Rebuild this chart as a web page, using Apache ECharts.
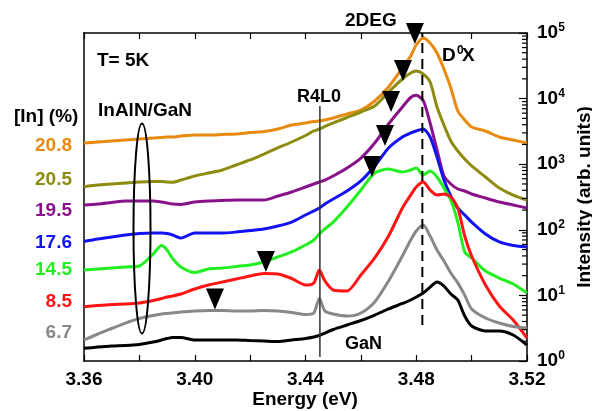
<!DOCTYPE html>
<html>
<head>
<meta charset="utf-8">
<script src="https://cdn.jsdelivr.net/npm/echarts@6/dist/echarts.min.js"></script>
<style>
    html, body { margin: 0; padding: 0; background: #fff; }
    #main { width: 592px; height: 411px; }
</style>
</head>
<body>
<div id="main"></div>
<script>
// 能量坐标 (eV)
var energy = [3.360, 3.365, 3.370, 3.375, 3.380, 3.385, 3.388, 3.390, 3.392, 3.395,
    3.400, 3.405, 3.410, 3.415, 3.420, 3.425, 3.430, 3.435, 3.440, 3.443,
    3.445, 3.447, 3.450, 3.455, 3.460, 3.465, 3.470, 3.475, 3.478, 3.480,
    3.4825, 3.485, 3.4875, 3.490, 3.4925, 3.495, 3.4975, 3.500, 3.505, 3.510,
    3.515, 3.520];

// 各样品的PL强度 (arb. units)
var in208 = [2100, 2180, 2260, 2340, 2420, 2510, 2550, 2600, 2600, 2690,
    2790, 2790, 2840, 2890, 3040, 3150, 3440, 3960, 4250, 4480,
    4560, 4720, 5060, 5820, 6700, 9190, 15000, 29300, 44600, 65600,
    83900, 70400, 49600, 28300, 14500, 6470, 4720, 3690, 3210, 2600,
    2340, 2100];
var in205 = [454, 482, 499, 517, 535, 545, 545, 535, 530, 574,
    661, 734, 816, 973, 1160, 1430, 1770, 2180, 2740, 3210,
    3440, 3760, 4250, 5150, 6250, 7710, 12600, 19900, 24600, 26300,
    23700, 17900, 7450, 3960, 2260, 1590, 1200, 940, 638, 434,
    339, 284];
var in195 = [239, 247, 261, 275, 275, 275, 265, 256, 247, 243,
    265, 275, 280, 284, 284, 284, 327, 377, 449, 499,
    535, 574, 661, 875, 1240, 2100, 4100, 7450, 10400, 11200,
    9400, 4250, 1650, 661, 499, 419, 390, 351, 305, 265,
    239, 215];
var in176 = [66.4, 72.4, 77.7, 83.3, 87.9, 89.4, 89.4, 87.9, 83.3, 75.0,
    89.4, 89.4, 89.4, 92.5, 97.5, 103, 114, 131, 168, 194,
    215, 247, 295, 390, 555, 940, 1770, 2600, 2990, 3210,
    3440, 2600, 1290, 574, 327, 215, 168, 131, 86.3, 65.2,
    57.6, 54.7];
var in145 = [24.4, 25.3, 26.2, 27.1, 28.1, 42.8, 57.6, 49.2, 36.5, 27.1,
    22.3, 25.3, 26.2, 27.6, 29.1, 32.3, 38.5, 45.9, 58.6, 70,
    86.3, 103, 131, 223, 404, 734, 845, 760, 816, 875,
    684, 787, 638, 434, 284, 131, 45.9, 37.2, 23.5, 18.4,
    14.9, 10.9];
var in85 = [6.73, 7.02, 7.27, 7.39, 7.66, 8.36, 8.97, 9.46, 9.79, 10.5,
    12.5, 14.4, 16.0, 17.8, 19.8, 21.6, 21.2, 18.1, 14.4, 15.5,
    24.4, 16.6, 12.1, 11.7, 20.5, 37.2, 80.4, 215, 339, 449,
    535, 404, 339, 351, 316, 215, 80.4, 39.9, 14.4, 6.89,
    4.22, 2.24];
var in67 = [2.09, 2.58, 3.13, 3.79, 4.44, 4.94, 5.20, 5.30, 5.39, 5.58,
    5.78, 5.89, 5.89, 5.78, 5.78, 5.89, 5.78, 5.49, 5.12, 5.39,
    8.97, 5.78, 5.20, 4.85, 5.39, 7.93, 16.6, 39.9, 70.0, 95.9,
    118, 80.4, 49.2, 33.4, 21.9, 15.5, 10.1, 6.21, 4.52, 3.79,
    3.36, 3.18];
var gaN = [1.56, 1.63, 1.69, 1.72, 1.79, 1.95, 2.09, 2.20, 2.28, 2.28,
    2.09, 2.09, 2.09, 2.09, 2.05, 2.02, 1.98, 2.09, 2.20, 2.32,
    2.45, 2.67, 3.02, 3.54, 4.14, 5.02, 6.21, 7.53, 8.51, 9.46,
    10.9, 13.4, 16.0, 13.9, 10.5, 8.51, 4.85, 3.42, 2.87, 2.87,
    2.49, 1.75];

// 三角形标记 (2DEG 位置)
var markerEnergy = [3.4795, 3.4752, 3.4709, 3.4687, 3.4640, 3.4257, 3.4073];
var markerIntensity = [67900, 18500, 6250, 1890, 638, 22.7, 6.10];

// 竖线: R4L0 与 D0X
var r4l0Energy = 3.4452;
var r4l0Range = [1.15, 7710];
var d0xEnergy = 3.4822;
var d0xRange = [3.54, 100000];

var concLabels = ['20.8', '20.5', '19.5', '17.6', '14.5', '8.5', '6.7'];
var concColors = ['#E88A10', '#8C8C10', '#88128A', '#1212F2', '#22EE22', '#FF1414', '#888888'];
var concLabelY = [146, 180, 211, 243, 270, 302, 333];

var xTicks = [3.36, 3.40, 3.44, 3.48, 3.52];

var curves = [in208, in205, in195, in176, in145, in85, in67, gaN];
var curveColors = concColors.concat(['#000000']);

var FONT = '"Liberation Sans", Arial, sans-serif';

function zip(xs, ys) {
    var out = [];
    for (var i = 0; i < xs.length; i++) {
        out.push([xs[i], ys[i]]);
    }
    return out;
}

// 对数轴次刻度 2..9 x 10^n
var minorTicks = [];
for (var n = 0; n < 5; n++) {
    for (var m = 2; m <= 9; m++) {
        minorTicks.push([3.52, m * Math.pow(10, n)]);
    }
}

var series = [];
for (var k = 0; k < curves.length; k++) {
    series.push({
        type: 'line',
        data: zip(energy, curves[k]),
        showSymbol: false,
        smooth: 0.25,
        lineStyle: { color: curveColors[k], width: 3 },
        z: 2
    });
}
series.push({
    type: 'line',
    data: [[r4l0Energy, r4l0Range[0]], [r4l0Energy, r4l0Range[1]]],
    showSymbol: false,
    lineStyle: { color: '#333', width: 1.5 },
    z: 4
});
series.push({
    type: 'line',
    data: [[d0xEnergy, d0xRange[0]], [d0xEnergy, d0xRange[1]]],
    showSymbol: false,
    lineStyle: { color: '#000', width: 2, type: [10, 6] },
    z: 4
});
series.push({
    type: 'scatter',
    data: zip(markerEnergy, markerIntensity),
    symbol: 'path://M0,0 L16,0 L8,19 Z',
    symbolSize: [18, 21],
    symbolOffset: [0, -10.5],
    itemStyle: { color: '#000', opacity: 1 },
    z: 5
});
series.push({
    type: 'scatter',
    data: minorTicks,
    symbol: 'rect',
    symbolSize: [5, 1.2],
    symbolOffset: [-2.5, 0],
    clip: false,
    silent: true,
    itemStyle: { color: '#000', opacity: 1 },
    z: 6
});

var graphics = [
    { type: 'text', left: 97, top: 51, style: { text: 'T= 5K', font: 'bold 19px ' + FONT, fill: '#000' } },
    { type: 'text', left: 98, top: 101, style: { text: 'InAlN/GaN', font: 'bold 19px ' + FONT, fill: '#000' } },
    { type: 'text', left: 14, top: 107, style: { text: '[In] (%)', font: 'bold 19px ' + FONT, fill: '#000' } },
    { type: 'text', left: 297, top: 88, style: { text: 'R4L0', font: 'bold 18px ' + FONT, fill: '#000' } },
    { type: 'text', left: 345, top: 11, style: { text: '2DEG', font: 'bold 19px ' + FONT, fill: '#000' } },
    { type: 'text', left: 442, top: 46, style: { text: 'D', font: 'bold 19px ' + FONT, fill: '#000' } },
    { type: 'text', left: 457, top: 45, style: { text: '0', font: 'bold 12px ' + FONT, fill: '#000' } },
    { type: 'text', left: 462, top: 46, style: { text: 'X', font: 'bold 19px ' + FONT, fill: '#000' } },
    { type: 'text', left: 345, top: 335, style: { text: 'GaN', font: 'bold 18px ' + FONT, fill: '#000' } },
    {
        type: 'text',
        x: 305,
        y: 400,
        style: {
            text: 'Energy (eV)',
            font: 'bold 19px ' + FONT,
            fill: '#000',
            textAlign: 'center',
            textVerticalAlign: 'middle'
        }
    },
    {
        type: 'ellipse',
        shape: { cx: 142, cy: 228.5, rx: 8.5, ry: 105 },
        style: { fill: 'none', stroke: '#000', lineWidth: 2 },
        z: 10
    }
];
for (var j = 0; j < concLabels.length; j++) {
    graphics.push({
        type: 'text',
        x: 72,
        y: concLabelY[j],
        style: {
            text: concLabels[j],
            font: 'bold 19px ' + FONT,
            fill: concColors[j],
            textAlign: 'right',
            textVerticalAlign: 'middle'
        }
    });
}

var chart = echarts.init(document.getElementById('main'), null, { renderer: 'canvas' });
var option = {
    animation: false,
    backgroundColor: '#fff',
    grid: { left: 84, right: 65, top: 33, bottom: 50, containLabel: false, outerBoundsMode: 'none' },
    xAxis: [{
        type: 'value',
        min: 3.36,
        max: 3.52,
        interval: 0.02,
        axisLine: { lineStyle: { color: '#000', width: 1.5 } },
        axisTick: { inside: true, length: 6, lineStyle: { color: '#000', width: 1.2 } },
        splitLine: { show: false },
        axisLabel: {
            margin: 9,
            fontFamily: FONT,
            fontWeight: 'bold',
            fontSize: 19,
            color: '#000',
            formatter: function (v) {
                var hit = false;
                for (var i = 0; i < xTicks.length; i++) {
                    if (Math.abs(v - xTicks[i]) < 1e-6) hit = true;
                }
                return hit ? v.toFixed(2) : '';
            }
        }
    }, {
        type: 'value',
        position: 'top',
        min: 3.36,
        max: 3.52,
        interval: 0.02,
        axisLine: { lineStyle: { color: '#000', width: 1.5 } },
        axisTick: { inside: true, length: 6, lineStyle: { color: '#000', width: 1.2 } },
        axisLabel: { show: false },
        splitLine: { show: false }
    }],
    yAxis: [{
        type: 'log',
        logBase: 10,
        position: 'right',
        min: 1,
        max: 100000,
        name: 'Intensity (arb. units)',
        nameLocation: 'middle',
        nameGap: 38,
        nameRotate: 90,
        nameTextStyle: { fontFamily: FONT, fontWeight: 'bold', fontSize: 19, color: '#000' },
        axisLine: { show: true, lineStyle: { color: '#000', width: 1.5 } },
        axisTick: { show: true, inside: true, length: 8, lineStyle: { color: '#000', width: 1.2 } },
        splitLine: { show: false },
        axisLabel: {
            margin: 10,
            formatter: function (v) {
                var e = Math.round(Math.log(v) / Math.LN10);
                return '{b|10}{s|' + e + '}';
            },
            rich: {
                b: { fontFamily: FONT, fontWeight: 'bold', fontSize: 19, color: '#000', lineHeight: 22 },
                s: { fontFamily: FONT, fontWeight: 'bold', fontSize: 12, color: '#000', lineHeight: 22, verticalAlign: 'top' }
            }
        }
    }, {
        type: 'value',
        position: 'left',
        min: 0,
        max: 1,
        axisLine: { show: true, lineStyle: { color: '#444', width: 2 } },
        axisTick: { show: false },
        axisLabel: { show: false },
        splitLine: { show: false }
    }],
    series: series,
    graphic: graphics
};
chart.setOption(option);
</script>
</body>
</html>
